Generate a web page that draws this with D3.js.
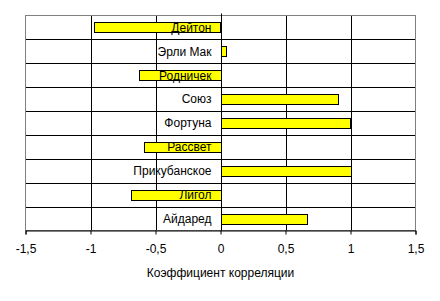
<!DOCTYPE html>
<html>
<head>
<meta charset="utf-8">
<script src="https://cdn.jsdelivr.net/npm/d3@7"></script>
<style>
  body { margin: 0; background: #fff; }
  text { font-family: "Liberation Sans", Arial, sans-serif; font-size: 12px; fill: #000; }
</style>
</head>
<body>
<div id="chart"></div>
<script>
'use strict';

// data
var varieties = ['Дейтон', 'Эрли Мак', 'Родничек', 'Союз', 'Фортуна', 'Рассвет', 'Прикубанское', 'Лигол', 'Айдаред'];
var correlations = [-0.97, 0.04, -0.63, 0.90, 0.99, -0.59, 1.0, -0.69, 0.665];
var tickValues = [-1.5, -1, -0.5, 0, 0.5, 1, 1.5];
var axisTitle = 'Коэффициент корреляции';

var width = 440, height = 301;
var plotLeft = 25.5, plotRight = 415.5, plotTop = 15.5, plotBottom = 230.5;

var svg = d3.select('#chart').append('svg')
  .attr('width', width)
  .attr('height', height);

var x = d3.scaleLinear()
  .domain([-1.5, 1.5])           //data space
  .range([plotLeft, plotRight]); //pixel space

var y = d3.scaleBand()
  .domain(varieties)
  .range([plotTop, plotBottom])
  .padding(0);

//horizontal grid lines between categories
svg.selectAll('.hgrid')
    .data(varieties.slice(1))
  .enter().append('line')
    .attr('class', 'hgrid')
    .attr('x1', plotLeft).attr('x2', plotRight)
    .attr('y1', function(d){ return Math.round(y(d)) + 0.5; })
    .attr('y2', function(d){ return Math.round(y(d)) + 0.5; })
    .attr('stroke', '#000');

//vertical grid lines
svg.selectAll('.vgrid')
    .data(tickValues.slice(1, -1))
  .enter().append('line')
    .attr('class', 'vgrid')
    .attr('x1', function(d){ return Math.round(x(d)) + 0.5; })
    .attr('x2', function(d){ return Math.round(x(d)) + 0.5; })
    .attr('y1', plotTop).attr('y2', plotBottom)
    .attr('stroke', '#000');

//plot area border (grey)
svg.append('rect')
  .attr('x', plotLeft).attr('y', plotTop)
  .attr('width', plotRight - plotLeft).attr('height', plotBottom - plotTop)
  .attr('fill', 'none')
  .attr('stroke', '#808080');

//bars
var bh = y.bandwidth() * 0.42;
svg.selectAll('.bar')
    .data(varieties)
  .enter().append('rect')
    .attr('class', 'bar')
    .attr('x', function(d, i){ return Math.round(x(Math.min(0, correlations[i]))) + 0.5; })
    .attr('width', function(d, i){ return Math.round(Math.abs(x(correlations[i]) - x(0))); })
    .attr('y', function(d){ return Math.round(y(d) + (y.bandwidth() - bh) / 2) + 0.5; })
    .attr('height', Math.round(bh))
    .attr('fill', '#ffff00')
    .attr('stroke', '#000');

//zero line, sticking out a little above the plot
svg.append('line')
  .attr('x1', Math.round(x(0)) + 0.5).attr('x2', Math.round(x(0)) + 0.5)
  .attr('y1', plotTop - 2).attr('y2', plotBottom)
  .attr('stroke', '#000');

//category labels drawn over the bars
svg.selectAll('.cat')
    .data(varieties)
  .enter().append('text')
    .attr('class', 'cat')
    .attr('x', x(0) - 9)
    .attr('y', function(d){ return y(d) + y.bandwidth() / 2; })
    .attr('dy', '0.36em')
    .attr('text-anchor', 'end')
    .text(function(d){ return d; });

//bottom axis
var xAxis = d3.axisBottom(x)
  .tickValues(tickValues)
  .tickSize(4)
  .tickPadding(10)
  .tickFormat(function(d){ return String(d).replace('.', ','); });

var gx = svg.append('g')
  .attr('transform', 'translate(0,' + plotBottom + ')')
  .call(xAxis);
gx.select('.domain').attr('stroke', '#000');
gx.selectAll('.tick line').attr('stroke', '#000');
gx.selectAll('text').attr('font-size', 12).attr('font-family', '"Liberation Sans", Arial, sans-serif');

svg.append('text')
  .attr('x', (plotLeft + plotRight) / 2)
  .attr('y', 277)
  .attr('text-anchor', 'middle')
  .text(axisTitle);
</script>
</body>
</html>
